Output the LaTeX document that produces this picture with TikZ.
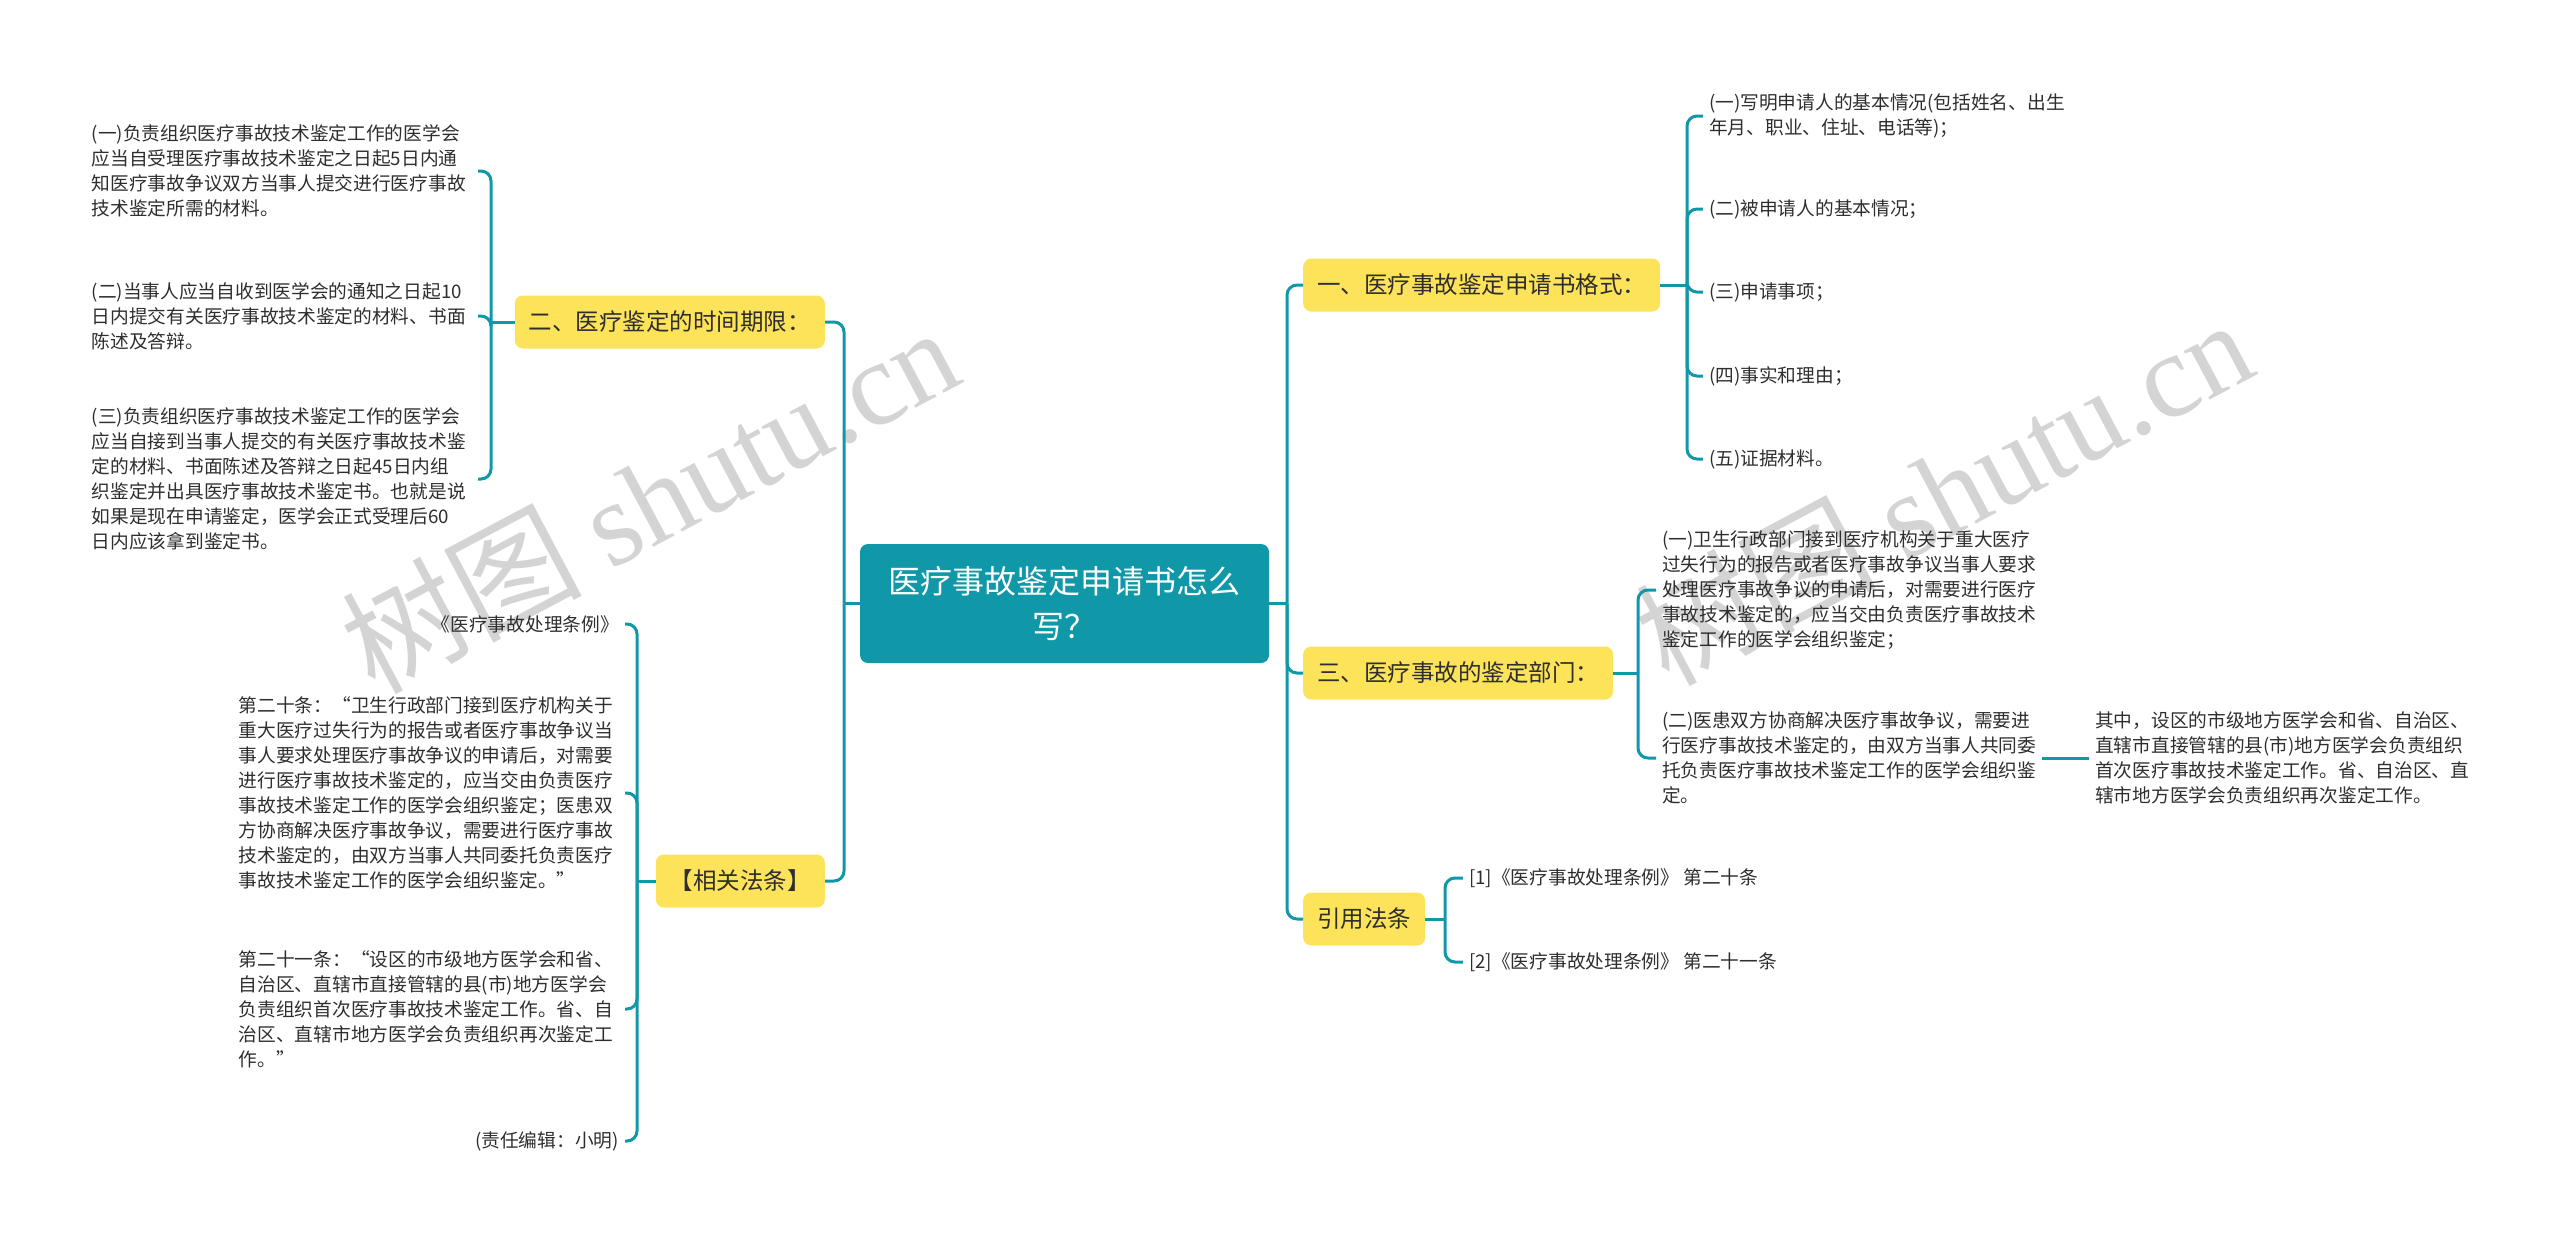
\documentclass[tikz,border=0pt]{standalone}
\usepackage{fontspec}
\setmainfont{Noto Sans CJK SC}
\newfontfamily\wmlatin{Liberation Serif}
\definecolor{teal1}{HTML}{1198A8}
\definecolor{yel}{HTML}{FDE35A}
\definecolor{txt}{HTML}{2E2E2E}
\definecolor{wmc}{HTML}{D4D4D4}
\begin{document}
\begin{tikzpicture}[x=1pt,y=-1pt,
  rootbox/.style={fill=teal1, rounded corners=8pt, text=white, font=\fontsize{32}{45}\selectfont, align=center, minimum width=409pt, minimum height=119pt, inner sep=0pt},
  lvbox/.style={fill=yel, rounded corners=8pt, text=txt, font=\fontsize{23.5}{28}\selectfont, inner xsep=14pt, inner ysep=0pt, minimum height=53pt},
  leaf/.style={text=txt, font=\fontsize{18.7}{25}\selectfont, align=left, inner xsep=6pt, inner ysep=2pt},
  wide/.style={text width=380pt},
  conn/.style={draw=teal1, line width=3pt, rounded corners=10pt},
  wmark/.style={text=wmc, font=\fontsize{120}{120}\selectfont, rotate=28, inner sep=0pt},
]
\useasboundingbox (0,0) rectangle (2560,1243);

% watermarks
\node[wmark] (wm1) at (649,498) {树图 {\wmlatin shutu.cn}};
\node[wmark] (wm2) at (1943,490) {树图 {\wmlatin shutu.cn}};

% root
\node[rootbox] (root) at (1064.5,603.5) {医疗事故鉴定申请书怎么\\写？};

% level 1
\node[lvbox, anchor=west] (b1) at (1303,285) {一、医疗事故鉴定申请书格式：};
\node[lvbox, anchor=west] (b3) at (1303,673) {三、医疗事故的鉴定部门：};
\node[lvbox, anchor=west] (b4) at (1303,919) {引用法条};
\node[lvbox, anchor=east] (b2) at (825,322) {二、医疗鉴定的时间期限：};
\node[lvbox, anchor=east] (b5) at (825,881) {【相关法条】};

\coordinate (rJ) at (1287,603.5);
\coordinate (lJ) at (844,603.5);
\draw[conn] (root.east) -- (rJ);
\draw[conn] (root.west) -- (lJ);
\foreach \b in {b1,b3,b4} \draw[conn] (rJ) |- (\b.west);
\foreach \b in {b2,b5} \draw[conn] (lJ) |- (\b.east);

% b1 leaves
\node[leaf, anchor=west] (a1) at (1703,116) {(一)写明申请人的基本情况(包括姓名、出生\\年月、职业、住址、电话等)；};
\node[leaf, anchor=west] (a2) at (1703,209) {(二)被申请人的基本情况；};
\node[leaf, anchor=west] (a3) at (1703,292) {(三)申请事项；};
\node[leaf, anchor=west] (a4) at (1703,376) {(四)事实和理由；};
\node[leaf, anchor=west] (a5) at (1703,459) {(五)证据材料。};
\coordinate (J1) at (1687,285);
\draw[conn] (b1.east) -- (J1);
\foreach \n in {a1,a2,a3,a4,a5} \draw[conn] (J1) |- (\n.west);

% b3 leaves
\node[leaf, anchor=west] (c1) at (1656,590) {(一)卫生行政部门接到医疗机构关于重大医疗\\过失行为的报告或者医疗事故争议当事人要求\\处理医疗事故争议的申请后，对需要进行医疗\\事故技术鉴定的，应当交由负责医疗事故技术\\鉴定工作的医学会组织鉴定；};
\node[leaf, anchor=west] (c2) at (1656,758) {(二)医患双方协商解决医疗事故争议，需要进\\行医疗事故技术鉴定的，由双方当事人共同委\\托负责医疗事故技术鉴定工作的医学会组织鉴\\定。};
\node[leaf, anchor=west] (d1) at (2089,758) {其中，设区的市级地方医学会和省、自治区、\\直辖市直接管辖的县(市)地方医学会负责组织\\首次医疗事故技术鉴定工作。省、自治区、直\\辖市地方医学会负责组织再次鉴定工作。};
\coordinate (J3) at (1638,673);
\draw[conn] (b3.east) -- (J3);
\foreach \n in {c1,c2} \draw[conn] (J3) |- (\n.west);
\draw[conn] (c2.east) -- (d1.west);

% b4 leaves
\node[leaf, anchor=west] (e1) at (1463,878) {[1]《医疗事故处理条例》 第二十条};
\node[leaf, anchor=west] (e2) at (1463,962) {[2]《医疗事故处理条例》 第二十一条};
\coordinate (J4) at (1445,919);
\draw[conn] (b4.east) -- (J4);
\foreach \n in {e1,e2} \draw[conn] (J4) |- (\n.west);

% b2 leaves
\node[leaf, wide, anchor=east] (f1) at (478,171) {(一)负责组织医疗事故技术鉴定工作的医学会\\应当自受理医疗事故技术鉴定之日起5日内通\\知医疗事故争议双方当事人提交进行医疗事故\\技术鉴定所需的材料。};
\node[leaf, wide, anchor=east] (f2) at (478,316) {(二)当事人应当自收到医学会的通知之日起10\\日内提交有关医疗事故技术鉴定的材料、书面\\陈述及答辩。};
\node[leaf, wide, anchor=east] (f3) at (478,479) {(三)负责组织医疗事故技术鉴定工作的医学会\\应当自接到当事人提交的有关医疗事故技术鉴\\定的材料、书面陈述及答辩之日起45日内组\\织鉴定并出具医疗事故技术鉴定书。也就是说\\如果是现在申请鉴定，医学会正式受理后60\\日内应该拿到鉴定书。};
\coordinate (J2) at (491,322);
\draw[conn] (b2.west) -- (J2);
\foreach \n in {f1,f2,f3} \draw[conn] (J2) |- (\n.east);

% b5 leaves
\node[leaf, anchor=east] (g1) at (625,624) {《医疗事故处理条例》};
\node[leaf, wide, anchor=east] (g2) at (625,793) {第二十条：“卫生行政部门接到医疗机构关于\\重大医疗过失行为的报告或者医疗事故争议当\\事人要求处理医疗事故争议的申请后，对需要\\进行医疗事故技术鉴定的，应当交由负责医疗\\事故技术鉴定工作的医学会组织鉴定；医患双\\方协商解决医疗事故争议，需要进行医疗事故\\技术鉴定的，由双方当事人共同委托负责医疗\\事故技术鉴定工作的医学会组织鉴定。”};
\node[leaf, wide, anchor=east] (g3) at (625,1009) {第二十一条：“设区的市级地方医学会和省、\\自治区、直辖市直接管辖的县(市)地方医学会\\负责组织首次医疗事故技术鉴定工作。省、自\\治区、直辖市地方医学会负责组织再次鉴定工\\作。”};
\node[leaf, anchor=east] (g4) at (625,1141) {(责任编辑：小明)};
\coordinate (J5) at (637,881);
\draw[conn] (b5.west) -- (J5);
\foreach \n in {g1,g2,g3,g4} \draw[conn] (J5) |- (\n.east);
\end{tikzpicture}
\end{document}
